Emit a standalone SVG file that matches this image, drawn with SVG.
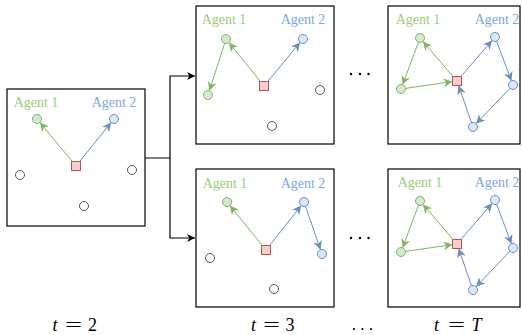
<svg xmlns="http://www.w3.org/2000/svg" width="522" height="335" viewBox="0 0 522 335">
<style>
.box{fill:#fff;stroke:#000;stroke-width:1.2}
.lbl{font-family:"Liberation Serif",serif;font-size:14px;text-anchor:middle}
.l1{fill:#97d077}.l2{fill:#7ea6e0}
.g{fill:#d5e8d4;stroke:#82b366;stroke-width:1}
.b{fill:#dae8fc;stroke:#6c8ebf;stroke-width:1}
.r{fill:#f8cecc;stroke:#b85450;stroke-width:1}
.o{fill:#fff;stroke:#555;stroke-width:1}
.eg{stroke:#82b366;stroke-width:1;fill:none;marker-end:url(#ag)}
.eb{stroke:#6c8ebf;stroke-width:1;fill:none;marker-end:url(#ab)}
.ek{stroke:#000;stroke-width:1.2;fill:none}
.m{font-family:"Liberation Serif",serif;font-size:18px;text-anchor:middle;fill:#000}
.it{font-style:italic}
</style>
<defs>
<marker id="ag" viewBox="0 0 10 10" refX="10" refY="5" markerWidth="9" markerHeight="9" markerUnits="userSpaceOnUse" orient="auto"><path d="M0,0 L10,5 L0,10 L3,5 z" fill="#82b366"/></marker>
<marker id="ab" viewBox="0 0 10 10" refX="10" refY="5" markerWidth="9" markerHeight="9" markerUnits="userSpaceOnUse" orient="auto"><path d="M0,0 L10,5 L0,10 L3,5 z" fill="#6c8ebf"/></marker>
<marker id="ak" viewBox="0 0 10 10" refX="10" refY="5" markerWidth="8" markerHeight="8" markerUnits="userSpaceOnUse" orient="auto"><path d="M0,0 L10,5 L0,10 L3,5 z" fill="#000"/></marker>
</defs>

<g id="panel-t2">
<rect class="box" x="7" y="89" width="138" height="137"/>
<text class="lbl l1" x="36" y="106.5">Agent 1</text>
<text class="lbl l2" x="114" y="106.5">Agent 2</text>
<circle class="g" cx="37" cy="119" r="4.5"/>
<circle class="b" cx="114" cy="119" r="4.5"/>
<rect class="r" x="71.5" y="161.5" width="9" height="9"/>
<circle class="o" cx="20" cy="175" r="4.5"/>
<circle class="o" cx="132" cy="170" r="4.5"/>
<circle class="o" cx="84" cy="206" r="4.5"/>
</g>

<g id="panel-t3-top">
<rect class="box" x="196" y="6" width="138" height="138"/>
<text class="lbl l1" x="224" y="23.5">Agent 1</text>
<text class="lbl l2" x="303" y="23.5">Agent 2</text>
<circle class="g" cx="226" cy="39" r="4.5"/>
<circle class="g" cx="208" cy="95" r="4.5"/>
<circle class="b" cx="303" cy="39" r="4.5"/>
<rect class="r" x="259.5" y="81.5" width="9" height="9"/>
<circle class="o" cx="320" cy="90" r="4.5"/>
<circle class="o" cx="272" cy="126" r="4.5"/>
</g>

<g id="panel-tT-top">
<rect class="box" x="388" y="6" width="132" height="138"/>
<text class="lbl l1" x="418" y="23.5">Agent 1</text>
<text class="lbl l2" x="497" y="23.5">Agent 2</text>
<circle class="g" cx="420" cy="38" r="4.5"/>
<circle class="g" cx="401" cy="89" r="4.5"/>
<circle class="b" cx="495" cy="37" r="4.5"/>
<circle class="b" cx="513" cy="85" r="4.5"/>
<circle class="b" cx="473" cy="127" r="4.5"/>
<rect class="r" x="452.5" y="76.5" width="9" height="9"/>
</g>

<g id="panel-t3-bottom">
<rect class="box" x="196" y="169" width="138" height="138"/>
<text class="lbl l1" x="225" y="187.5">Agent 1</text>
<text class="lbl l2" x="303" y="187.5">Agent 2</text>
<circle class="g" cx="227" cy="202" r="4.5"/>
<circle class="b" cx="304" cy="202" r="4.5"/>
<circle class="b" cx="322" cy="254" r="4.5"/>
<rect class="r" x="261.5" y="245.5" width="9" height="9"/>
<circle class="o" cx="210" cy="258" r="4.5"/>
<circle class="o" cx="274" cy="289" r="4.5"/>
</g>

<g id="panel-tT-bottom">
<rect class="box" x="388" y="169" width="132" height="138"/>
<text class="lbl l1" x="420" y="186.5">Agent 1</text>
<text class="lbl l2" x="497" y="186.5">Agent 2</text>
<circle class="g" cx="420" cy="201" r="4.5"/>
<circle class="g" cx="401" cy="252" r="4.5"/>
<circle class="b" cx="495" cy="200" r="4.5"/>
<circle class="b" cx="513" cy="248" r="4.5"/>
<circle class="b" cx="473" cy="290" r="4.5"/>
<rect class="r" x="452.5" y="239.5" width="9" height="9"/>
</g>

<g id="connectors">
<path class="ek" d="M145,158 H170 V76 H195" marker-end="url(#ak)"/>
<path class="ek" d="M170,158 V238 H195" marker-end="url(#ak)"/>
<line class="eg" x1="72.3" y1="161.5" x2="39.9" y2="122.5"/>
<line class="eb" x1="79.6" y1="161.5" x2="111.2" y2="122.5"/>
<line class="eg" x1="260.4" y1="81.5" x2="228.9" y2="42.5"/>
<line class="eb" x1="267.7" y1="81.5" x2="300.1" y2="42.5"/>
<line class="eg" x1="224.6" y1="43.3" x2="209.4" y2="90.7"/>
<line class="eg" x1="262.3" y1="245.5" x2="229.8" y2="205.5"/>
<line class="eb" x1="269.6" y1="245.5" x2="301.2" y2="205.5"/>
<line class="eb" x1="305.5" y1="206.3" x2="320.5" y2="249.7"/>
<line class="eg" x1="453.1" y1="76.5" x2="422.9" y2="41.4"/>
<line class="eg" x1="418.4" y1="42.2" x2="402.6" y2="84.8"/>
<line class="eg" x1="405.5" y1="88.4" x2="452.5" y2="81.6"/>
<line class="eb" x1="460.9" y1="76.5" x2="492.1" y2="40.4"/>
<line class="eb" x1="496.6" y1="41.2" x2="511.4" y2="80.8"/>
<line class="eb" x1="509.9" y1="88.3" x2="476.1" y2="123.7"/>
<line class="eb" x1="471.5" y1="122.7" x2="458.6" y2="85.5"/>
<line class="eg" x1="453.1" y1="239.5" x2="422.9" y2="204.4"/>
<line class="eg" x1="418.4" y1="205.2" x2="402.6" y2="247.8"/>
<line class="eg" x1="405.5" y1="251.4" x2="452.5" y2="244.6"/>
<line class="eb" x1="460.9" y1="239.5" x2="492.1" y2="203.4"/>
<line class="eb" x1="496.6" y1="204.2" x2="511.4" y2="243.8"/>
<line class="eb" x1="509.9" y1="251.3" x2="476.1" y2="286.7"/>
<line class="eb" x1="471.5" y1="285.7" x2="458.6" y2="248.5"/>
</g>

<g id="dots">
<circle cx="351" cy="74" r="1.2"/><circle cx="360" cy="74" r="1.2"/><circle cx="368.5" cy="74" r="1.2"/>
<circle cx="351" cy="238" r="1.2"/><circle cx="360" cy="238" r="1.2"/><circle cx="368.5" cy="238" r="1.2"/>
<circle cx="354" cy="329" r="1.1"/><circle cx="362.5" cy="329" r="1.1"/><circle cx="371" cy="329" r="1.1"/>
</g>

<g id="labels">
<text class="m it" x="55" y="331">t</text><text class="m" x="65" y="331" style="text-anchor:start" textLength="17" lengthAdjust="spacingAndGlyphs">=</text><text class="m" x="92.5" y="331">2</text>
<text class="m it" x="253.5" y="331">t</text><text class="m" x="263" y="331" style="text-anchor:start" textLength="17" lengthAdjust="spacingAndGlyphs">=</text><text class="m" x="290" y="331">3</text>
<text class="m it" x="436.5" y="331">t</text><text class="m" x="448" y="331" style="text-anchor:start" textLength="17" lengthAdjust="spacingAndGlyphs">=</text><text class="m it" x="476.5" y="331">T</text>
</g>
</svg>
